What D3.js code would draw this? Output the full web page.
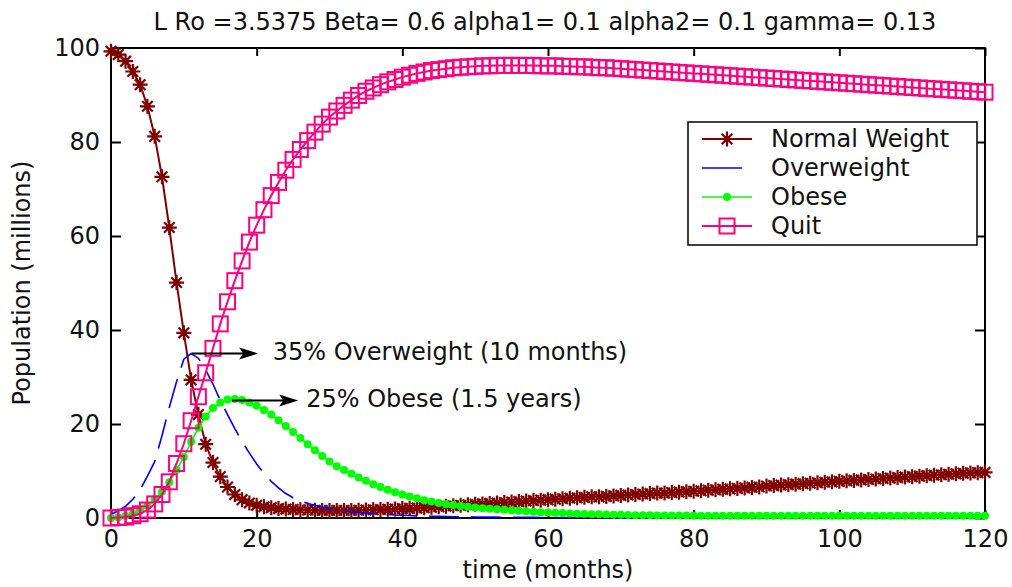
<!DOCTYPE html>
<html><head><meta charset="utf-8">
<script src="https://cdn.jsdelivr.net/npm/d3@7/dist/d3.min.js"></script>
<style>
html,body{margin:0;padding:0;background:#fff;}
svg{display:block;font-family:"DejaVu Sans",sans-serif;}
</style></head>
<body><svg id="c" width="1012" height="587"></svg>
<script>
const months = d3.range(0, 121);
const xTicks = [0, 20, 40, 60, 80, 100, 120];
const yTicks = [0, 20, 40, 60, 80, 100];
const titleText = "L Ro =3.5375 Beta= 0.6 alpha1= 0.1 alpha2= 0.1 gamma= 0.13";
const xLabel = "time (months)";
const yLabel = "Population (millions)";
const seriesNames = ["Normal Weight", "Overweight", "Obese", "Quit"];

const normalWeight = [
 99.3, 98.6, 97.2, 95.0, 92.2, 87.6, 81.2, 72.6, 61.8, 50.1,
 39.4, 29.4, 22.0, 15.7, 11.8, 8.8, 6.6, 5.0, 3.9, 3.2,
 2.7, 2.4, 2.2, 2.0, 1.9, 1.8, 1.75, 1.7, 1.65, 1.6,
 1.6, 1.6, 1.6, 1.6, 1.65, 1.7, 1.75, 1.8, 1.85, 1.9,
 2.0, 2.05, 2.1, 2.2, 2.3, 2.4, 2.5, 2.6, 2.7, 2.8,
 2.9, 3.0, 3.1, 3.2, 3.3, 3.4, 3.5, 3.6, 3.7, 3.8,
 3.9, 4.0, 4.1, 4.2, 4.3, 4.4, 4.5, 4.5, 4.6, 4.7,
 4.8, 4.9, 5.0, 5.1, 5.2, 5.3, 5.3, 5.4, 5.5, 5.6,
 5.7, 5.8, 5.9, 6.0, 6.1, 6.2, 6.3, 6.4, 6.5, 6.6,
 6.8, 6.9, 7.0, 7.1, 7.2, 7.3, 7.4, 7.5, 7.6, 7.7,
 7.8, 7.9, 8.0, 8.1, 8.2, 8.3, 8.4, 8.5, 8.6, 8.7,
 8.8, 8.9, 9.0, 9.1, 9.2, 9.3, 9.4, 9.5, 9.6, 9.65,
 9.7];

const overweight = [
 0.8, 1.5, 2.5, 4.0, 6.0, 8.9, 12.0, 17.5, 23.5, 29.0,
 33.8, 35.0, 34.0, 31.5, 28.5, 25.0, 22.0, 19.0, 16.3, 13.8,
 11.5, 9.5, 7.8, 6.4, 5.2, 4.3, 3.7, 3.1, 2.7, 2.3,
 2.0, 1.75, 1.55, 1.35, 1.2, 1.05, 0.95, 0.85, 0.75, 0.65,
 0.6, 0.52, 0.46, 0.42, 0.38, 0.34, 0.31, 0.28, 0.26, 0.24,
 0.22, 0.2, 0.19, 0.18, 0.17, 0.16, 0.15, 0.14, 0.13, 0.12,
 0.12, 0.11, 0.11, 0.1, 0.1, 0.1, 0.1, 0.1, 0.1, 0.1,
 0.1, 0.1, 0.1, 0.1, 0.1, 0.1, 0.1, 0.1, 0.1, 0.1,
 0.1, 0.1, 0.1, 0.1, 0.1, 0.1, 0.1, 0.1, 0.1, 0.1,
 0.1, 0.1, 0.1, 0.1, 0.1, 0.1, 0.1, 0.1, 0.1, 0.1,
 0.1, 0.1, 0.1, 0.1, 0.1, 0.1, 0.1, 0.1, 0.1, 0.1,
 0.1, 0.1, 0.1, 0.1, 0.1, 0.1, 0.1, 0.1, 0.1, 0.1,
 0.1];

const obese = [
 0, 0.1, 0.4, 0.9, 1.6, 2.6, 4.0, 5.6, 7.6, 10.2,
 13.0, 16.2, 19.2, 21.6, 23.4, 24.6, 25.2, 25.3, 25.1, 24.6,
 23.9, 23.0, 22.0, 20.8, 19.6, 18.3, 17.0, 15.7, 14.4, 13.2,
 12.0, 11.0, 10.2, 9.4, 8.6, 7.9, 7.2, 6.6, 6.0, 5.5,
 5.0, 4.6, 4.2, 3.8, 3.5, 3.2, 2.95, 2.75, 2.55, 2.4,
 2.25, 2.1, 1.95, 1.85, 1.75, 1.65, 1.55, 1.45, 1.35, 1.25,
 1.15, 1.1, 1.04, 0.98, 0.92, 0.87, 0.82, 0.78, 0.74, 0.7,
 0.67, 0.64, 0.61, 0.59, 0.57, 0.55, 0.54, 0.53, 0.52, 0.51,
 0.5, 0.5, 0.5, 0.5, 0.5, 0.5, 0.5, 0.5, 0.5, 0.5,
 0.5, 0.5, 0.5, 0.5, 0.5, 0.5, 0.5, 0.5, 0.5, 0.5,
 0.5, 0.5, 0.5, 0.5, 0.5, 0.5, 0.5, 0.5, 0.5, 0.5,
 0.5, 0.5, 0.5, 0.5, 0.5, 0.5, 0.5, 0.5, 0.5, 0.5,
 0.5];

const quit = [
 0, 0.1, 0.2, 0.5, 0.9, 1.7, 3.0, 5.0, 7.7, 11.6,
 15.8, 20.7, 25.8, 30.9, 36.1, 41.3, 46.0, 50.5, 54.7, 58.7,
 62.3, 65.6, 68.6, 71.4, 74.0, 76.3, 78.4, 80.3, 82.1, 83.8,
 85.3, 86.6, 87.8, 88.9, 89.9, 90.8, 91.5, 92.2, 92.8, 93.3,
 93.8, 94.2, 94.6, 94.9, 95.2, 95.4, 95.6, 95.8, 95.9, 96.0,
 96.1, 96.2, 96.2, 96.3, 96.3, 96.3, 96.3, 96.3, 96.3, 96.2,
 96.2, 96.2, 96.1, 96.1, 96.0, 96.0, 95.9, 95.8, 95.8, 95.7,
 95.6, 95.5, 95.4, 95.3, 95.2, 95.1, 95.0, 94.9, 94.8, 94.7,
 94.6, 94.5, 94.4, 94.3, 94.2, 94.1, 94.0, 93.9, 93.8, 93.7,
 93.6, 93.5, 93.4, 93.3, 93.2, 93.1, 93.0, 92.9, 92.8, 92.7,
 92.6, 92.5, 92.4, 92.3, 92.2, 92.1, 92.0, 91.9, 91.8, 91.7,
 91.6, 91.5, 91.4, 91.3, 91.2, 91.1, 91.0, 90.9, 90.8, 90.7,
 90.6];

const annotationTexts = ["35% Overweight (10 months)", "25% Obese (1.5 years)"];
const annotationFrom = [11.1, 16.6];   // months
const annotationTo = [20.2, 25.7];     // months
const annotationLevel = [35, 25];      // millions
const annotationTextAt = [22.2, 26.8]; // months

// ---------- layout ----------
const svg = d3.select("#c");
const L = 111, R = 985, T = 48, B = 518;
const x = d3.scaleLinear().domain([0, 120]).range([L, R]);
const y = d3.scaleLinear().domain([0, 100]).range([B, T]);
const FS = 24;
const txtCol = "#111";

const styles = [
  {color: "#800000", width: 2, dash: null, marker: "star"},
  {color: "#0000ff", width: 1.6, dash: "30,12", marker: null},
  {color: "#00ff00", width: 1.6, dash: null, marker: "dot"},
  {color: "#ff0080", width: 2, dash: null, marker: "square"}
];
const seriesValues = [normalWeight, overweight, obese, quit];

// axes
function styleAxis(g){
  g.selectAll(".domain").remove();
  g.selectAll("line").attr("stroke", "#000").attr("stroke-width", 2);
  g.selectAll("text").attr("fill", txtCol).attr("font-size", FS).attr("font-family", "DejaVu Sans");
}
svg.append("g").attr("transform", `translate(0,${B})`)
  .call(d3.axisBottom(x).tickValues(xTicks).tickSizeInner(-8).tickSizeOuter(0).tickPadding(12).tickFormat(d3.format("d")))
  .call(styleAxis);
svg.append("g").attr("transform", `translate(0,${T})`)
  .call(d3.axisTop(x).tickValues(xTicks).tickSizeInner(-8).tickSizeOuter(0).tickFormat(""))
  .call(styleAxis);
svg.append("g").attr("transform", `translate(${L},0)`)
  .call(d3.axisLeft(y).tickValues(yTicks).tickSizeInner(-10).tickSizeOuter(0).tickPadding(11).tickFormat(d3.format("d")))
  .call(styleAxis);
svg.append("g").attr("transform", `translate(${R},0)`)
  .call(d3.axisRight(y).tickValues(yTicks).tickSizeInner(-10).tickSizeOuter(0).tickFormat(""))
  .call(styleAxis);
svg.append("rect").attr("x", L).attr("y", T).attr("width", R - L).attr("height", B - T)
  .attr("fill", "none").attr("stroke", "#000").attr("stroke-width", 2);

// markers
const starPath = "M-7.5,0H7.5M0,-7.5V7.5M-5.3,-5.3L5.3,5.3M-5.3,5.3L5.3,-5.3";
function drawMarker(g, type, color){
  if (type === "star") {
    g.append("path").attr("d", starPath).attr("stroke", color).attr("stroke-width", 2.2).attr("fill", "none");
    g.append("circle").attr("r", 3.2).attr("fill", color);
  } else if (type === "dot") {
    g.append("circle").attr("r", 4).attr("fill", color);
  } else if (type === "square") {
    g.append("rect").attr("x", -7.5).attr("y", -7.5).attr("width", 15).attr("height", 15)
      .attr("fill", "none").attr("stroke", color).attr("stroke-width", 2);
  }
}

const line = d3.line().x(d => x(d[0])).y(d => y(d[1]));
seriesValues.forEach((vals, i) => {
  const st = styles[i];
  const pts = months.map((m, k) => [m, vals[k]]);
  const g = svg.append("g");
  g.append("path").attr("d", line(pts)).attr("fill", "none")
    .attr("stroke", st.color).attr("stroke-width", st.width)
    .attr("stroke-dasharray", st.dash);
  if (st.marker) {
    pts.forEach(p => {
      const mg = g.append("g").attr("transform", `translate(${x(p[0])},${y(p[1])})`);
      drawMarker(mg, st.marker, st.color);
    });
  }
});

// title & labels
svg.append("text").attr("x", 545).attr("y", 30).attr("text-anchor", "middle")
  .attr("font-size", FS).attr("fill", txtCol).text(titleText);
svg.append("text").attr("x", (L + R) / 2).attr("y", 578).attr("text-anchor", "middle")
  .attr("font-size", FS).attr("fill", txtCol).text(xLabel);
svg.append("text").attr("transform", `translate(30,${(T + B) / 2}) rotate(-90)`).attr("text-anchor", "middle")
  .attr("font-size", FS).attr("fill", txtCol).text(yLabel);

// annotations
annotationTexts.forEach((t, i) => {
  const yy = y(annotationLevel[i]);
  const x1 = x(annotationFrom[i]), x2 = x(annotationTo[i]);
  svg.append("line").attr("x1", x1).attr("x2", x2 - 12).attr("y1", yy).attr("y2", yy)
    .attr("stroke", "#000").attr("stroke-width", 1.8);
  svg.append("path").attr("d", `M${x2},${yy}L${x2 - 19},${yy - 6}L${x2 - 15},${yy}L${x2 - 19},${yy + 6}Z`)
    .attr("fill", "#000");
  svg.append("text").attr("x", x(annotationTextAt[i])).attr("y", yy - 2).attr("dy", "0.35em")
    .attr("font-size", FS).attr("fill", txtCol).text(t);
});

// legend
const lg = svg.append("g");
lg.append("rect").attr("x", 688).attr("y", 122).attr("width", 289).attr("height", 123)
  .attr("fill", "#fff").attr("stroke", "#000").attr("stroke-width", 1.5);
seriesNames.forEach((n, i) => {
  const st = styles[i];
  const cy = 139 + i * 29;
  lg.append("line").attr("x1", 702).attr("x2", st.dash ? 742 : 752).attr("y1", cy).attr("y2", cy)
    .attr("stroke", st.color).attr("stroke-width", st.width);
  if (st.marker) {
    const mg = lg.append("g").attr("transform", `translate(727,${cy})`);
    drawMarker(mg, st.marker, st.color);
  }
  lg.append("text").attr("x", 771).attr("y", cy).attr("dy", "0.35em")
    .attr("font-size", FS).attr("fill", txtCol).text(n);
});
</script></body></html>
